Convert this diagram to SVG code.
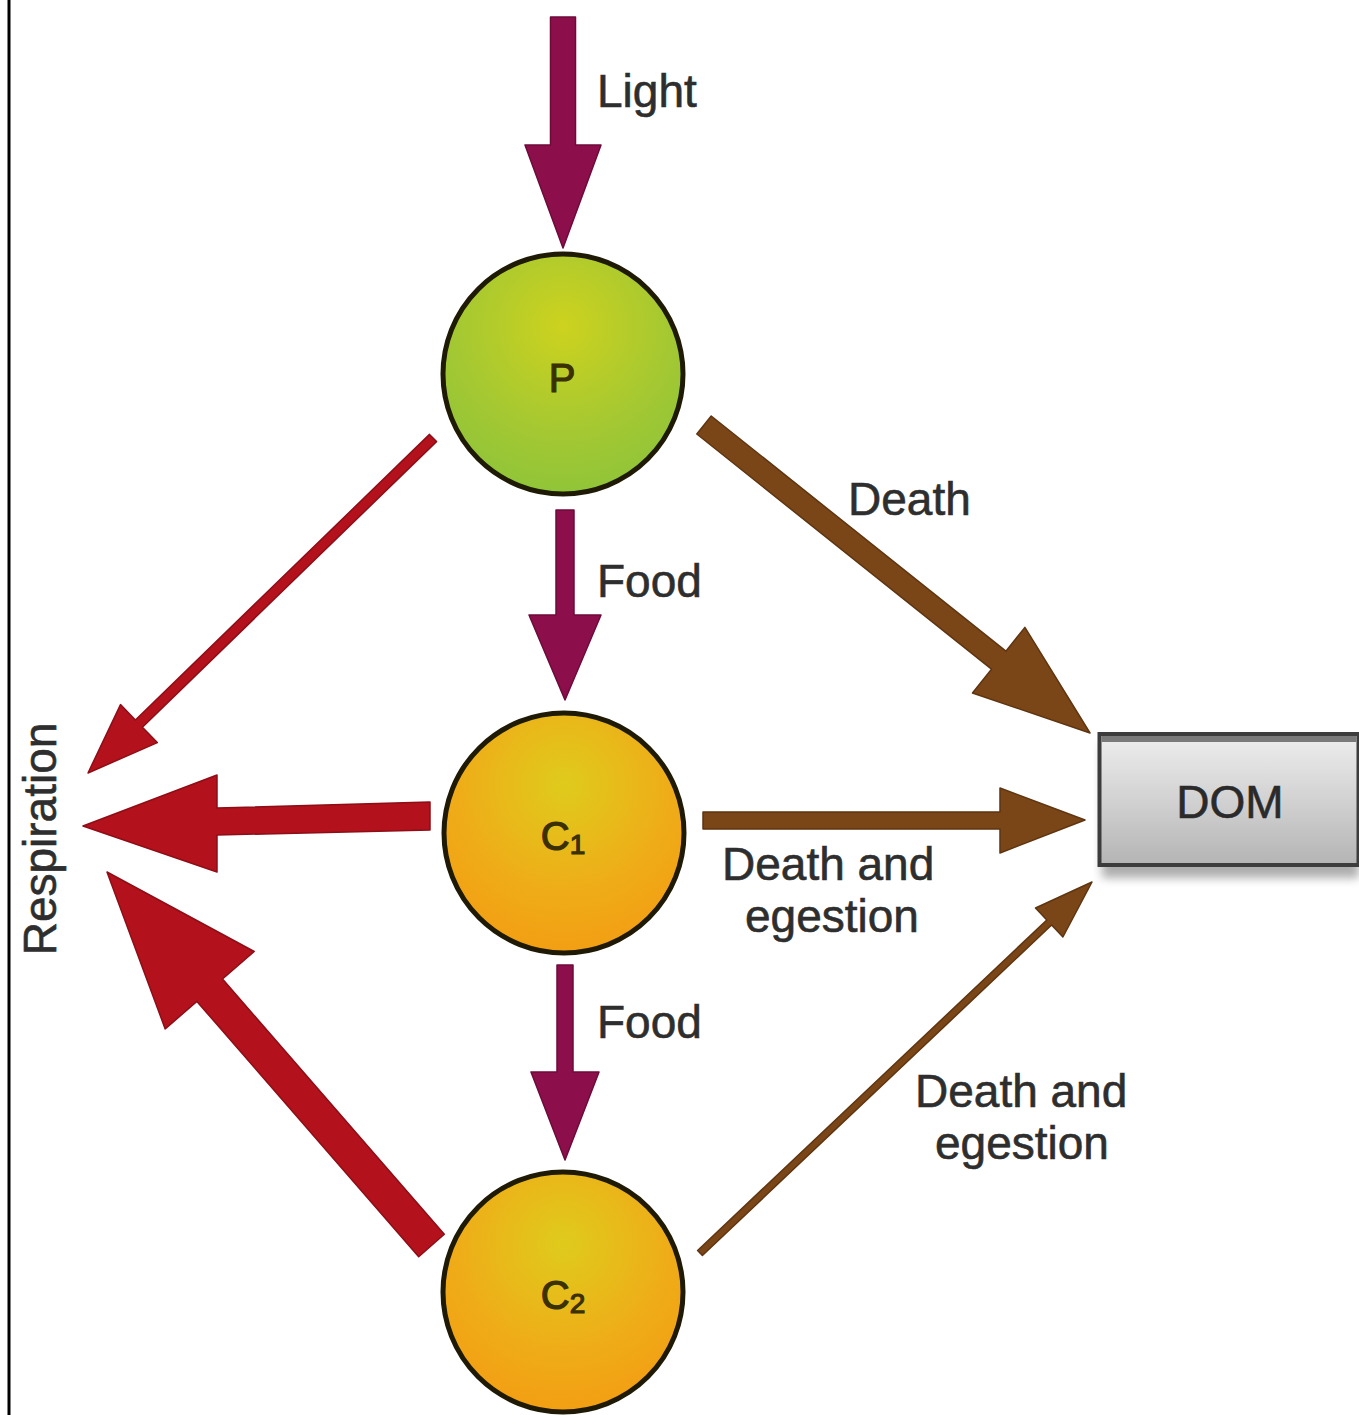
<svg xmlns="http://www.w3.org/2000/svg" width="1359" height="1415" viewBox="0 0 1359 1415">
<defs>
<radialGradient id="gP" cx="0.5" cy="0.3" r="0.75">
<stop offset="0" stop-color="#cdd21e"/>
<stop offset="0.6" stop-color="#a4c832"/>
<stop offset="1" stop-color="#8cc43a"/>
</radialGradient>
<radialGradient id="gC" cx="0.5" cy="0.3" r="0.75">
<stop offset="0" stop-color="#dfcb1c"/>
<stop offset="0.6" stop-color="#efac18"/>
<stop offset="1" stop-color="#f39c12"/>
</radialGradient>
<linearGradient id="gDom" x1="0" y1="0" x2="0" y2="1">
<stop offset="0" stop-color="#eeeeee"/>
<stop offset="0.5" stop-color="#d2d2d2"/>
<stop offset="1" stop-color="#b4b4b4"/>
</linearGradient>
<filter id="sh" x="-10%" y="-10%" width="120%" height="140%">
<feGaussianBlur stdDeviation="5"/>
</filter>
</defs>
<style>
.t{font-family:"Liberation Sans",Arial,sans-serif;font-size:46px;fill:#2e2e2e;stroke:#2e2e2e;stroke-width:0.6}
.nl{font-family:"Liberation Sans",Arial,sans-serif;font-size:40px;fill:#3a3000;stroke:#3a3000;stroke-width:1.2;text-anchor:middle}
.circ{stroke:#1e1a05;stroke-width:5}
.mag{fill:#8c0f4c;stroke:#6e0a3a;stroke-width:1.5;stroke-linejoin:round}
.red{fill:#b3121c;stroke:#8e0d16;stroke-width:1.5;stroke-linejoin:round}
.brn{fill:#7b4617;stroke:#5e3510;stroke-width:1.5;stroke-linejoin:round}
</style>
<rect x="0" y="0" width="1359" height="1415" fill="#ffffff"/>
<line x1="9" y1="0" x2="9" y2="1415" stroke="#000" stroke-width="3"/>

<g id="connectors">
<polygon class="mag" points="550.5,17 575.5,17 575.5,145 601,145 563,248 525,145 550.5,145"/>
<polygon class="mag" points="556,510 574,510 574,615 601,615 565,700 529,615 556,615"/>
<polygon class="mag" points="557,965 573,965 573,1072 599,1072 565,1160 531,1072 557,1072"/>
<polygon class="red" points="436.5,441.6 142.4,727.2 157.3,742.6 88,773 120.5,704.6 135.4,720 429.5,434.4"/>
<polygon class="red" points="430,802 217,808 217,775 83,826 217,872 217,835 430,830"/>
<polygon class="red" points="444.3,1234.3 222.5,979 254.2,951.5 107,872 165.2,1028.9 196.9,1001.4 418.7,1256.7"/>
<polygon class="brn" points="711.2,416 1005.9,651.2 1024.9,627.4 1090,733 972.5,693 991.5,669.2 696.8,434"/>
<polygon class="brn" points="703,812 1000,812 1000,788 1085,820 1000,853 1000,829 703,829"/>
<polygon class="brn" points="697.6,1250.5 1046.8,920 1035.5,908 1092,882 1062.9,937 1051.6,925 702.4,1255.5"/>
<text class="t" x="597" y="107">Light</text>
<text class="t" x="597" y="597">Food</text>
<text class="t" x="848" y="515">Death</text>
<text class="t" x="722" y="880">Death and</text>
<text class="t" x="745" y="932">egestion</text>
<text class="t" x="597" y="1038">Food</text>
<text class="t" x="915" y="1107">Death and</text>
<text class="t" x="935" y="1159">egestion</text>
</g>

<g id="respiration">
<text class="t" transform="translate(56,839) rotate(-90)" text-anchor="middle">Respiration</text>
</g>

<g id="node-P">
<circle class="circ" cx="563" cy="374" r="120" fill="url(#gP)"/>
<text class="nl" x="562" y="392">P</text>
</g>

<g id="node-C1">
<circle class="circ" cx="564" cy="833" r="120" fill="url(#gC)"/>
<text class="nl" x="563" y="850">C<tspan font-size="28" dy="4">1</tspan></text>
</g>

<g id="node-C2">
<circle class="circ" cx="563" cy="1292" r="120" fill="url(#gC)"/>
<text class="nl" x="563" y="1309">C<tspan font-size="28" dy="4">2</tspan></text>
</g>

<g id="node-DOM">
<rect x="1102" y="744" width="257" height="134" fill="#6a6a6a" opacity="0.55" filter="url(#sh)"/>
<rect x="1099.5" y="734" width="259" height="131" fill="url(#gDom)" stroke="#3c3c3c" stroke-width="4"/>
<rect x="1101.5" y="736" width="255" height="6" fill="#7a7a7a"/>
<text x="1230" y="818" text-anchor="middle" font-family="Liberation Sans, Arial, sans-serif" font-size="46" fill="#2a2a2a" stroke="#2a2a2a" stroke-width="0.6">DOM</text>
</g>
</svg>
